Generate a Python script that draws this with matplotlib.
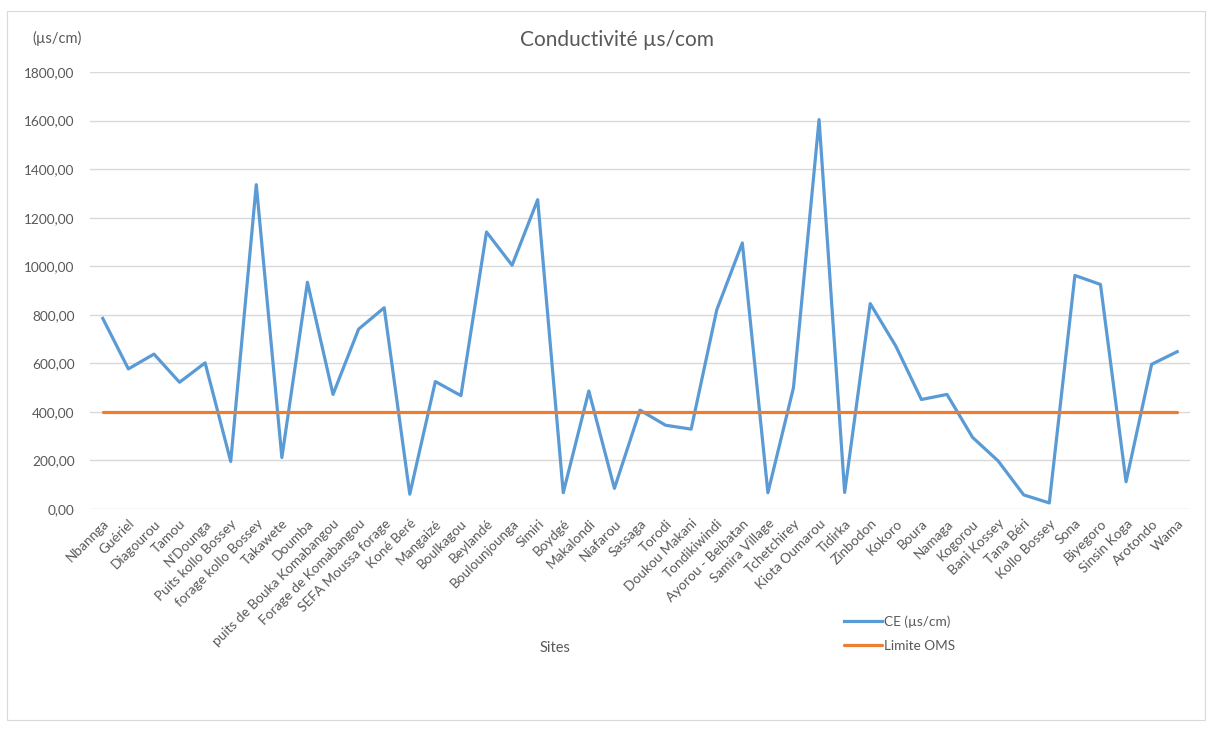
import matplotlib
matplotlib.use("Agg")
import matplotlib.pyplot as plt
from matplotlib.patches import Rectangle
from matplotlib.ticker import FuncFormatter

plt.rcParams['font.family'] = ['Lato', 'DejaVu Sans']

sites = [
    "Nbannga", "Guériel", "Diagourou", "Tamou", "N'Dounga", "Puits kollo Bossey",
    "forage kollo Bossey", "Takawete", "Doumba", "puits de Bouka Komabangou",
    "Forage de Komabangou", "SEFA Moussa forage", "Koné Beré", "Mangaizé",
    "Boulkagou", "Beylandé", "Boulounjounga", "Simiri", "Boydgé", "Makalondi",
    "Niafarou", "Sassaga", "Torodi", "Doukou Makani", "Tondikiwindi",
    "Ayorou - Beibatan", "Samira Village", "Tchetchirey", "Kiota Oumarou",
    "Tidirka", "Zinbodon", "Kokoro", "Boura", "Namaga", "Kogorou", "Bani Kossey",
    "Tana Béri", "Kollo Bossey", "Sona", "Biyegoro", "Sinsin Koga", "Arotondo", "Wama",
]

ce = [
    785, 577, 638, 522, 602, 196, 1336, 212, 934, 472,
    741, 829, 61, 525, 467, 1141, 1004, 1274, 67, 486,
    85, 407, 345, 329, 820, 1096, 67, 500, 1604,
    68, 846, 671, 451, 472, 295, 198, 58, 25, 962, 925, 112, 596, 648,
]

oms_limit = 400
oms = [oms_limit] * len(sites)

grey = "#595959"
fig = plt.figure(figsize=(12.12, 7.29), dpi=100)
fig.patches.append(Rectangle((7 / 1212, 1 - 720 / 729), 1198 / 1212, 709 / 729,
                             transform=fig.transFigure, fill=False,
                             edgecolor="#D9D9D9", linewidth=0.8))

ax = fig.add_axes([90 / 1212, 1 - 509 / 729, 1100 / 1212, 437 / 729])
x = list(range(len(sites)))
ax.plot(x, ce, color="#5B9BD5", linewidth=2.3, label="CE (µs/cm)", zorder=3)
ax.plot(x, oms, color="#ED7D31", linewidth=2.3, label="Limite OMS", zorder=3,
        solid_capstyle="round")

ax.set_xlim(-0.5, len(sites) - 0.5)
ax.set_ylim(0, 1800)
ax.set_yticks(range(0, 1801, 200))
ax.yaxis.set_major_formatter(FuncFormatter(lambda v, p: f"{v:.2f}".replace(".", ",")))
ax.grid(axis="y", color="#D9D9D9", linewidth=1)
ax.set_axisbelow(True)
for s in ax.spines.values():
    s.set_visible(False)
ax.tick_params(axis="both", length=0, colors=grey, labelsize=9.8)
ax.tick_params(axis="y", pad=11)
ax.set_xticks(x)
ax.set_xticklabels(sites, rotation=45, ha="right", rotation_mode="anchor")
ax.tick_params(axis="x", pad=6)

fig.text(617 / 1212, 1 - 40 / 729, "Conductivité µs/com", ha="center", va="center",
         fontsize=15, color=grey)
fig.text(32 / 1212, 1 - 38 / 729, "(µs/cm)", ha="left", va="center",
         fontsize=10.5, color=grey)
fig.text(555 / 1212, 1 - 648 / 729, "Sites", ha="center", va="center",
         fontsize=10.5, color=grey)

leg = fig.legend(loc="upper left", bbox_to_anchor=(832 / 1212, 1 - 603 / 729),
                 frameon=False, fontsize=9.8, handlelength=2.8, handletextpad=0.1,
                 labelspacing=0.9)
for t in leg.get_texts():
    t.set_color(grey)

plt.savefig("out.png")
